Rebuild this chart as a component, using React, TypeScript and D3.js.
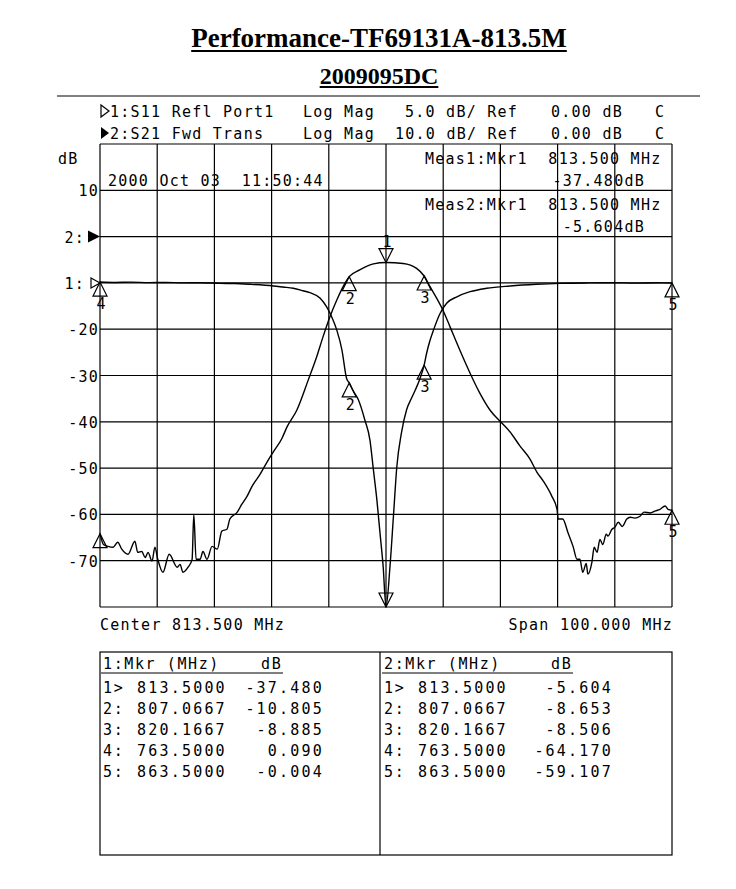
import React, { useEffect, useRef } from 'react';
import * as d3 from 'd3';

const title = 'Performance-TF69131A-813.5M';
const subtitle = '2009095DC';

const startMHz = 763.5;
const stopMHz = 863.5;
const centerMHz = 813.5;
const spanMHz = 100;

// S21 (trace 2, 10 dB/div, ref 0 dB on 2nd division)
const s21Freq = [
  763.5, 764.1, 764.9, 765.8, 766.6, 767.3, 768.4, 769.6, 770.1, 770.8, 771.4, 771.9, 772.6, 773.1,
  773.6, 774.5, 775.6, 777.0, 777.5, 778.0, 778.9, 779.6, 779.9, 780.3, 781.0, 781.5, 782.2, 783.1,
  784.0, 784.8, 785.7, 786.2, 787.5, 788.3, 789.2, 790.1, 791.5, 792.7, 793.8, 795.3, 796.2, 797.9,
  799.9, 801.4, 802.5, 803.7, 804.9, 806.0, 807.07, 808.9, 811.3, 813.5, 816.5, 818.85, 820.17, 821.2,
  822.4, 823.5, 824.7, 826.4, 828.2, 829.9, 831.7, 833.7, 835.2, 836.9, 838.7, 839.9, 841.0, 842.5,
  843.4, 843.6, 844.4, 845.3, 846.2, 846.9, 847.4, 847.9, 848.5, 848.8, 849.5, 849.9, 850.4, 850.9,
  851.4, 852.0, 852.3, 853.0, 853.5, 854.1, 854.8, 855.6, 856.2, 857.0, 857.9, 858.6, 859.7, 860.5,
  861.4, 862.3, 862.8, 863.5,
];
const s21Db = [
  -64.17, -66.5, -66.9, -67.1, -66.0, -67.5, -68.6, -65.8, -68.2, -68.0, -69.3, -68.2, -70.1, -67.1,
  -69.7, -72.5, -68.6, -71.4, -70.8, -72.5, -71.4, -69.7, -60.0, -69.7, -69.7, -68.0, -69.7, -66.9,
  -67.5, -63.6, -63.2, -61.0, -59.5, -57.8, -56.1, -53.9, -51.3, -48.7, -46.5, -43.6, -41.1, -37.5,
  -31.0, -25.9, -21.6, -17.3, -13.7, -10.8, -8.653, -7.2, -5.9, -5.604, -5.8, -6.85, -8.506, -10.8,
  -13.4, -16.0, -19.5, -24.5, -29.5, -33.8, -37.5, -40.2, -42.2, -45.2, -48.1, -50.9, -52.8, -56.1,
  -58.9, -61.0, -61.0, -63.9, -66.9, -69.7, -69.7, -72.5, -70.6, -72.9, -70.3, -67.1, -68.2, -65.4,
  -66.5, -64.3, -64.7, -63.2, -62.8, -61.7, -62.6, -61.0, -60.6, -60.8, -60.4, -59.5, -59.7, -59.3,
  -58.9, -58.2, -58.9, -59.107,
];

// S11 (trace 1, 5 dB/div, ref 0 dB on 3rd division)
const s11Freq = [
  763.5, 766, 769, 772, 775, 778, 781, 784.5, 787, 789.7, 793.8, 795.5, 797.3, 799, 800.2, 802, 803.1,
  804, 804.9, 805.8, 806.6, 807.07, 807.8, 808.65, 809.8, 810.7, 811.3, 811.9, 812.45, 813, 813.5,
  814.2, 814.8, 815.4, 816.2, 817.1, 818, 818.6, 819.4, 820.17, 820.6, 821.2, 821.8, 822.95, 824.1,
  825.9, 828.2, 831.1, 835.2, 839.8, 844, 849, 853, 857, 861, 863.5,
];
const s11Db = [
  0.09, 0.05, 0.08, 0.03, 0.05, 0.0, 0.02, -0.05, -0.07, -0.15, -0.33, -0.45, -0.58, -0.85, -1.06,
  -1.66, -2.57, -3.65, -5.1, -7.25, -10.3, -10.805, -11.7, -12.6, -14.8, -17.0, -20.2, -23.4, -27.0,
  -30.6, -37.48, -30.6, -25.2, -19.8, -16.2, -13.7, -12.4, -11.6, -10.4, -8.885, -7.6, -6.2, -5.1,
  -3.3, -2.2, -1.5, -0.95, -0.58, -0.33, -0.15, -0.05, 0.0, 0.02, -0.02, 0.01, -0.004,
];

const markerNames = ['1', '2', '3', '4', '5'];
const markerRowLabels = ['1>', '2:', '3:', '4:', '5:'];
const markerFreq = [813.5, 807.0667, 820.1667, 763.5, 863.5];
const s11MarkerDb = [-37.48, -10.805, -8.885, 0.09, -0.004];
const s21MarkerDb = [-5.604, -8.653, -8.506, -64.17, -59.107];

const yTickValues = [10, 0, -10, -20, -30, -40, -50, -60, -70];
const yTickLabels = ['10', '2:', '1:', '-20', '-30', '-40', '-50', '-60', '-70'];

const mono = '"DejaVu Sans Mono", monospace';
const serif = '"Liberation Serif", "Times New Roman", serif';

const App: React.FC = () => {
  const ref = useRef<SVGSVGElement | null>(null);

  useEffect(() => {
    if (!ref.current) return;
    const svg = d3.select<SVGSVGElement, unknown>(ref.current);
    svg.selectAll('*').remove();

    const left = 100, right = 672, top = 144, bottom = 607;

    const x = d3.scaleLinear().domain([startMHz, stopMHz]).range([left, right]);
    const y2 = d3.scaleLinear().domain([-80, 20]).range([bottom, top]);
    const y1 = d3.scaleLinear().domain([-35, 15]).range([bottom, top]).clamp(true);

    const txt = (px: number, py: number, s: string, anchor = 'start', size = 15, spacing = 1.25) =>
      svg
        .append('text')
        .attr('x', px)
        .attr('y', py)
        .attr('text-anchor', anchor)
        .attr('font-family', mono)
        .attr('font-size', size)
        .attr('letter-spacing', spacing)
        .attr('fill', '#000')
        .style('white-space', 'pre')
        .text(s);

    // titles
    const underlined = (py: number, s: string, size: number, gap: number, w: number) => {
      const t = svg
        .append('text')
        .attr('x', 379)
        .attr('y', py)
        .attr('text-anchor', 'middle')
        .attr('font-family', serif)
        .attr('font-weight', 'bold')
        .attr('font-size', size)
        .text(s);
      const bb = (t.node() as SVGTextElement).getBBox();
      svg
        .append('line')
        .attr('x1', bb.x)
        .attr('x2', bb.x + bb.width)
        .attr('y1', py + gap)
        .attr('y2', py + gap)
        .attr('stroke', '#000')
        .attr('stroke-width', w);
    };
    underlined(47, title, 27, 4, 2.2);
    underlined(84, subtitle, 24, 3, 2.2);

    svg.append('line').attr('x1', 57).attr('x2', 700).attr('y1', 96).attr('y2', 96)
      .attr('stroke', '#000').attr('stroke-width', 1);

    // channel header
    svg.append('path').attr('d', 'M101,105 L109,111 L101,117 Z')
      .attr('fill', 'none').attr('stroke', '#000').attr('stroke-width', 1.2);
    svg.append('path').attr('d', 'M101,127 L109,133 L101,139 Z').attr('fill', '#000');
    txt(110, 117, '1:S11 Refl Port1');
    txt(303, 117, 'Log Mag');
    txt(405, 117, '5.0 dB/ Ref');
    txt(551, 117, '0.00 dB');
    txt(655, 117, 'C');
    txt(110, 139, '2:S21 Fwd Trans');
    txt(303, 139, 'Log Mag');
    txt(395, 139, '10.0 dB/ Ref');
    txt(551, 139, '0.00 dB');
    txt(655, 139, 'C');

    // grid
    const g = svg.append('g').attr('stroke', '#000').attr('stroke-width', 1.2);
    d3.range(0, 11).forEach(i => {
      const fx = x(startMHz + (spanMHz / 10) * i);
      g.append('line').attr('x1', fx).attr('x2', fx).attr('y1', top).attr('y2', bottom);
      const gy = y2(-80 + 10 * i);
      g.append('line').attr('x1', left).attr('x2', right).attr('y1', gy).attr('y2', gy);
    });

    // y labels
    txt(58, 164, 'dB');
    yTickValues.forEach((v, i) => {
      const lbl = yTickLabels[i];
      if (lbl.endsWith(':')) txt(85, y2(v) + 6, lbl, 'end');
      else txt(99, y2(v) + 6, lbl, 'end');
    });
    svg.append('path').attr('d', `M88,${y2(0) - 6} L100,${y2(0)} L88,${y2(0) + 6} Z`).attr('fill', '#000');
    svg.append('path').attr('d', `M91,${y2(-10) - 5} L100,${y2(-10)} L91,${y2(-10) + 5} Z`)
      .attr('fill', 'none').attr('stroke', '#000').attr('stroke-width', 1.2);

    // annotations inside the graticule
    txt(108, 186, '2000 Oct 03  11:50:44');
    txt(425, 164, `Meas1:Mkr1  ${markerFreq[0].toFixed(3)} MHz`);
    txt(645, 186, `${s11MarkerDb[0].toFixed(3)}dB`, 'end');
    txt(425, 210, `Meas2:Mkr1  ${markerFreq[0].toFixed(3)} MHz`);
    txt(645, 232, `${s21MarkerDb[0].toFixed(3)}dB`, 'end');

    // traces
    const s21 = s21Freq.map((f, i) => [f, s21Db[i]] as [number, number]);
    const s11 = s11Freq.map((f, i) => [f, s11Db[i]] as [number, number]);
    const line2 = d3.line<[number, number]>().x(d => x(d[0])).y(d => y2(d[1])).curve(d3.curveMonotoneX);
    const line1 = d3.line<[number, number]>().x(d => x(d[0])).y(d => y1(d[1])).curve(d3.curveMonotoneX);
    svg.append('path').datum(s21).attr('d', line2).attr('fill', 'none').attr('stroke', '#000').attr('stroke-width', 1.4);
    svg.append('path').datum(s11).attr('d', line1).attr('fill', 'none').attr('stroke', '#000').attr('stroke-width', 1.4);

    // markers
    const drawMarker = (mx: number, my: number, name: string, down: boolean, showLabel: boolean) => {
      const h = 14, w = 7;
      const d = down
        ? `M${mx},${my} L${mx - w},${my - h} L${mx + w},${my - h} Z`
        : `M${mx},${my} L${mx - w},${my + h} L${mx + w},${my + h} Z`;
      svg.append('path').attr('d', d).attr('fill', 'none').attr('stroke', '#000').attr('stroke-width', 1.2);
      if (showLabel) txt(mx + 1, down ? my - 16 : my + 27, name, 'middle', 15, 0);
    };
    markerNames.forEach((name, i) => {
      const mx = x(markerFreq[i]);
      drawMarker(mx, y1(s11MarkerDb[i]), name, i === 0, i !== 0);
      drawMarker(mx, y2(s21MarkerDb[i]), name, i === 0, i !== 3);
    });

    // footer of the graticule
    txt(100, 630, `Center ${centerMHz.toFixed(3)} MHz`);
    txt(673, 630, `Span ${spanMHz.toFixed(3)} MHz`, 'end');

    // marker table
    const tTop = 652, tBottom = 855, mid = 380;
    svg.append('rect').attr('x', left).attr('y', tTop).attr('width', right - left).attr('height', tBottom - tTop)
      .attr('fill', 'none').attr('stroke', '#000').attr('stroke-width', 1.2);
    svg.append('line').attr('x1', mid).attr('x2', mid).attr('y1', tTop).attr('y2', tBottom)
      .attr('stroke', '#000').attr('stroke-width', 1.2);

    const cols = [
      { x0: 103, fx: 137, vx: 324, dbx: 261, head: '1:Mkr (MHz)', vals: s11MarkerDb },
      { x0: 384, fx: 418, vx: 613, dbx: 551, head: '2:Mkr (MHz)', vals: s21MarkerDb },
    ];
    cols.forEach(c => {
      txt(c.x0, 669, c.head, 'start', 15, 1.6);
      txt(c.dbx, 669, 'dB', 'start', 15, 1.6);
      svg.append('line').attr('x1', c.x0 - 2).attr('x2', c.dbx + 22).attr('y1', 673).attr('y2', 673)
        .attr('stroke', '#000').attr('stroke-width', 1);
      markerRowLabels.forEach((lbl, i) => {
        const ry = 693 + i * 21;
        txt(c.x0, ry, lbl, 'start', 15, 1.6);
        txt(c.fx, ry, markerFreq[i].toFixed(4), 'start', 15, 2.2);
        txt(c.vx, ry, c.vals[i].toFixed(3), 'end', 15, 2.2);
      });
    });
  }, []);

  return (
    <div style={{ position: 'absolute', left: 0, top: 0 }}>
      <svg ref={ref} width={736} height={889} style={{ display: 'block', background: '#fff' }} />
    </div>
  );
};

export default App;
